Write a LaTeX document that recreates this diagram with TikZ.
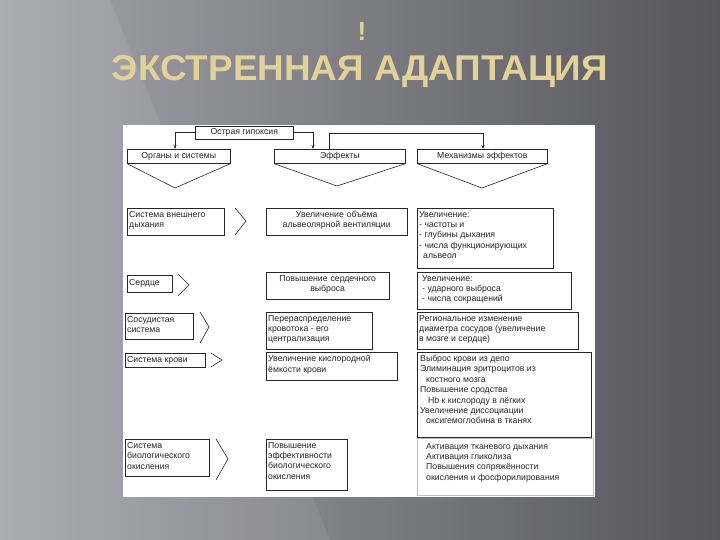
\documentclass[tikz,border=0pt]{standalone}
\usepackage{fontspec}
\usetikzlibrary{arrows.meta}
\setmainfont{Liberation Sans}
\definecolor{bgL}{HTML}{A4A4AC}
\definecolor{bgR}{HTML}{55555B}
\definecolor{ttl}{HTML}{E2D29A}
\begin{document}
\begin{tikzpicture}[x=1pt,y=-1pt,
  bx/.style={draw=black!85,line width=0.6pt,anchor=north west,inner sep=0pt},
  tx/.style={anchor=north west,inner sep=0pt,align=left,font=\fontsize{8.7}{10.4}\selectfont,text=black!85},
  ct/.style={inner sep=0pt,font=\fontsize{8.7}{10}\selectfont,text=black!85},
  ln/.style={draw=black!85,line width=0.6pt},
  ar/.style={ln,-{Stealth[length=4pt,width=3pt]}}]
\useasboundingbox (0,0) rectangle (720,540);
\shade[left color=bgL, right color=bgR] (0,0) rectangle (720,540);
\fill[white,opacity=0.08] (0,0) -- (110,0) -- (330,540) -- (0,540) -- cycle;
\node[font=\bfseries\fontsize{26}{26}\selectfont,text=ttl] (ex) at (362,32) {!};
\node (title) at (360,72) {\resizebox{496pt}{25pt}{\bfseries\color{ttl}ЭКСТРЕННАЯ АДАПТАЦИЯ}};
% panel
\fill[white] (123,125) rectangle (595,497);
% header
\node[bx,minimum width=98,minimum height=13] (h0) at (195,126) {};
\node[ct] at (h0) {Острая гипоксия};
\node[bx,minimum width=103,minimum height=14] (h1) at (127,149) {};
\node[ct] at (h1) {Органы и системы};
\node[bx,minimum width=131,minimum height=14] (h2) at (274,149) {};
\node[ct] at (h2) {Эффекты};
\node[bx,minimum width=130,minimum height=14] (h3) at (417,149) {};
\node[ct] at (h3) {Механизмы эффектов};
\draw[ar] (h0.west) -| (h1.north west -| 175,0);
\draw[ar] (h0.east) -| (h2.north west -| 313,0);
\draw[ar] (h2.north west -| 329,0) |- (483,133) -- (h3.north west -| 483,0);
\coordinate (a1) at (175,188); \coordinate (a2) at (337,186); \coordinate (a3) at (482,188);
\draw[ln] (h1.south west) -- (a1) -- (h1.south east);
\draw[ln] (h2.south west) -- (a2) -- (h2.south east);
\draw[ln] (h3.south west) -- (a3) -- (h3.south east);
% row 1
\node[bx,minimum width=97,minimum height=27] (o1) at (127,208) {};
\node[tx] at ([shift={(2,3)}]o1.north west) {Система внешнего\\дыхания};
\draw[ln] (235,208) -- (246,221) -- (235,235);
\node[bx,minimum width=141,minimum height=27] (e1) at (266,208) {};
\node[tx,align=center,text width=141] at ([shift={(0,3)}]e1.north west) {Увеличение объёма\\альвеолярной вентиляции};
\node[bx,minimum width=136,minimum height=60] (m1) at (417,208) {};
\node[tx] at ([shift={(2,3)}]m1.north west) {Увеличение:\\- частоты и\\- глубины дыхания\\- числа функционирующих\\\hspace*{4pt}альвеол};
% row 2
\node[bx,minimum width=45,minimum height=17] (o2) at (127,275) {};
\node[tx] at ([shift={(2,4)}]o2.north west) {Сердце};
\draw[ln] (178,274) -- (189,285) -- (178,296);
\node[bx,minimum width=123,minimum height=27] (e2) at (266,272) {};
\node[tx,align=center,text width=123] at ([shift={(0,3)}]e2.north west) {Повышение сердечного\\выброса};
\node[bx,minimum width=154,minimum height=37] (m2) at (417,272) {};
\node[tx] at ([shift={(5,3)}]m2.north west) {Увеличение:\\- ударного выброса\\- числа сокращений};
% row 3
\node[bx,minimum width=68,minimum height=26] (o3) at (125,313) {};
\node[tx] at ([shift={(2,3)}]o3.north west) {Сосудистая\\система};
\draw[ln] (200,312) -- (209,327) -- (200,343);
\node[bx,minimum width=106,minimum height=37] (e3) at (266,312) {};
\node[tx] at ([shift={(2,3)}]e3.north west) {Перераспределение\\кровотока - его\\централизация};
\node[bx,minimum width=161,minimum height=37] (m3) at (417,312) {};
\node[tx] at ([shift={(2,3)}]m3.north west) {Региональное изменение\\диаметра сосудов (увеличение\\в мозге и сердце)};
% row 4
\node[bx,minimum width=80,minimum height=14] (o4) at (125,353) {};
\node[tx] at ([shift={(2,3)}]o4.north west) {Система крови};
\draw[ln] (211,353) -- (222,360) -- (211,367);
\node[bx,minimum width=131,minimum height=28] (e4) at (266,352) {};
\node[tx] at ([shift={(2,3)}]e4.north west) {Увеличение кислородной\\ёмкости крови};
\node[bx,minimum width=174,minimum height=85] (m4) at (417,352) {};
\node[tx] at ([shift={(3,3)}]m4.north west) {Выброс крови из депо\\Элиминация эритроцитов из\\\hspace*{6pt}костного мозга\\Повышение сродства\\\hspace*{8pt}Hb к кислороду в лёгких\\Увеличение диссоциации\\\hspace*{6pt}оксигемоглобина в тканях};
% row 5
\node[bx,minimum width=84,minimum height=37] (o5) at (125,439) {};
\node[tx] at ([shift={(2,3)}]o5.north west) {Система\\биологического\\окисления};
\draw[ln] (216,439) -- (228,459) -- (216,480);
\node[bx,minimum width=81,minimum height=51] (e5) at (266,439) {};
\node[tx] at ([shift={(2,3)}]e5.north west) {Повышение\\эффективности\\биологического\\окисления};
\node[bx,draw=black!25,minimum width=176,minimum height=57] (m5) at (417,438) {};
\node[tx] at ([shift={(9,5)}]m5.north west) {Активация тканевого дыхания\\Активация гликолиза\\Повышения сопряжённости\\окисления и фосфорилирования};
\end{tikzpicture}
\end{document}
